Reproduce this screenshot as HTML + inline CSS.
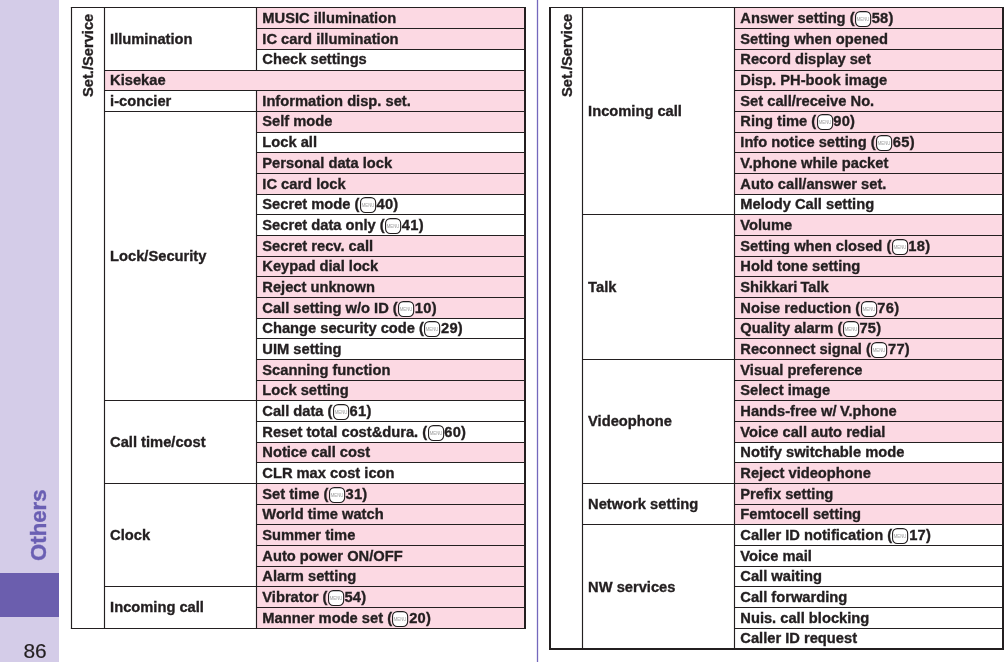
<!DOCTYPE html>
<html lang="en"><head><meta charset="utf-8"><title>Others - Menu function list (Set./Service)</title>
<style>
html,body{margin:0;padding:0;background:#fff}
body{width:1004px;height:662px;position:relative;overflow:hidden;font-family:"Liberation Sans",sans-serif;color:#231f20}
#side{position:absolute;left:0;top:0;width:59px;height:662px;background:#d4cce8}
#tab{position:absolute;left:0;top:573px;width:59px;height:44px;background:#6b5eae}
#oth{position:absolute;left:47.0px;top:560.6px;font-weight:bold;font-size:22.2px;line-height:1;color:#6a5fb3;-webkit-text-stroke:0.4px #6a5fb3;white-space:nowrap;transform-origin:0 0;transform:rotate(-90deg) translateY(-18.792px)}
#pg{position:absolute;left:23.4px;top:640.1px;font-size:20.9px;line-height:22px;color:#231f20;-webkit-text-stroke:0.2px #231f20}
#g{position:absolute;left:0;top:0}
#t{position:absolute;left:0;top:0;width:1004px;height:662px;will-change:transform}
#g line{stroke:#231f20;stroke-width:1.15}
.c,.v{-webkit-text-stroke:0.35px #231f20}
.c{position:absolute;font-weight:bold;font-size:14.7px;line-height:20.68px;height:20.68px;white-space:nowrap}
.v{position:absolute;font-weight:bold;font-size:14.7px;line-height:1;white-space:nowrap;transform-origin:0 0;transform:rotate(-90deg) translateY(-12.444px)}
.mi{display:inline-block;vertical-align:baseline;margin:0 0.5px -4.3px 0.4px;overflow:visible}
.n{letter-spacing:.25px}
</style></head><body>
<div id="side"></div><div id="tab"></div>
<svg id="g" width="1004" height="662" viewBox="0 0 1004 662">
<line x1="537.5" y1="0" x2="537.5" y2="662" style="stroke:#7468bd;stroke-width:1.3"/>
<rect x="256.5" y="7.5" width="268.5" height="21" fill="#fcd9e3"/>
<rect x="256.5" y="28.5" width="268.5" height="21" fill="#fcd9e3"/>
<rect x="104.5" y="70.5" width="420.5" height="20" fill="#fcd9e3"/>
<rect x="256.5" y="90.5" width="268.5" height="21" fill="#fcd9e3"/>
<rect x="256.5" y="111.5" width="268.5" height="21" fill="#fcd9e3"/>
<rect x="256.5" y="152.5" width="268.5" height="21" fill="#fcd9e3"/>
<rect x="256.5" y="173.5" width="268.5" height="21" fill="#fcd9e3"/>
<rect x="256.5" y="235.5" width="268.5" height="21" fill="#fcd9e3"/>
<rect x="256.5" y="256.5" width="268.5" height="20" fill="#fcd9e3"/>
<rect x="256.5" y="276.5" width="268.5" height="21" fill="#fcd9e3"/>
<rect x="256.5" y="297.5" width="268.5" height="21" fill="#fcd9e3"/>
<rect x="256.5" y="359.5" width="268.5" height="21" fill="#fcd9e3"/>
<rect x="256.5" y="380.5" width="268.5" height="20" fill="#fcd9e3"/>
<rect x="256.5" y="442.5" width="268.5" height="20" fill="#fcd9e3"/>
<rect x="256.5" y="483.5" width="268.5" height="21" fill="#fcd9e3"/>
<rect x="256.5" y="504.5" width="268.5" height="20" fill="#fcd9e3"/>
<rect x="256.5" y="524.5" width="268.5" height="21" fill="#fcd9e3"/>
<rect x="256.5" y="545.5" width="268.5" height="21" fill="#fcd9e3"/>
<rect x="256.5" y="566.5" width="268.5" height="20" fill="#fcd9e3"/>
<rect x="256.5" y="586.5" width="268.5" height="21" fill="#fcd9e3"/>
<rect x="256.5" y="607.5" width="268.5" height="21" fill="#fcd9e3"/>
<line x1="256.5" y1="28.5" x2="525" y2="28.5"/>
<line x1="256.5" y1="49.5" x2="525" y2="49.5"/>
<line x1="104.5" y1="70.5" x2="525" y2="70.5"/>
<line x1="104.5" y1="90.5" x2="525" y2="90.5"/>
<line x1="104.5" y1="111.5" x2="525" y2="111.5"/>
<line x1="256.5" y1="132.5" x2="525" y2="132.5"/>
<line x1="256.5" y1="152.5" x2="525" y2="152.5"/>
<line x1="256.5" y1="173.5" x2="525" y2="173.5"/>
<line x1="256.5" y1="194.5" x2="525" y2="194.5"/>
<line x1="256.5" y1="214.5" x2="525" y2="214.5"/>
<line x1="256.5" y1="235.5" x2="525" y2="235.5"/>
<line x1="256.5" y1="256.5" x2="525" y2="256.5"/>
<line x1="256.5" y1="276.5" x2="525" y2="276.5"/>
<line x1="256.5" y1="297.5" x2="525" y2="297.5"/>
<line x1="256.5" y1="318.5" x2="525" y2="318.5"/>
<line x1="256.5" y1="338.5" x2="525" y2="338.5"/>
<line x1="256.5" y1="359.5" x2="525" y2="359.5"/>
<line x1="256.5" y1="380.5" x2="525" y2="380.5"/>
<line x1="104.5" y1="400.5" x2="525" y2="400.5"/>
<line x1="256.5" y1="421.5" x2="525" y2="421.5"/>
<line x1="256.5" y1="442.5" x2="525" y2="442.5"/>
<line x1="256.5" y1="462.5" x2="525" y2="462.5"/>
<line x1="104.5" y1="483.5" x2="525" y2="483.5"/>
<line x1="256.5" y1="504.5" x2="525" y2="504.5"/>
<line x1="256.5" y1="524.5" x2="525" y2="524.5"/>
<line x1="256.5" y1="545.5" x2="525" y2="545.5"/>
<line x1="256.5" y1="566.5" x2="525" y2="566.5"/>
<line x1="104.5" y1="586.5" x2="525" y2="586.5"/>
<line x1="256.5" y1="607.5" x2="525" y2="607.5"/>
<line x1="104.5" y1="7.5" x2="104.5" y2="628.5"/>
<line x1="256.5" y1="7.5" x2="256.5" y2="70.5"/>
<line x1="256.5" y1="90.5" x2="256.5" y2="111.5"/>
<line x1="256.5" y1="111.5" x2="256.5" y2="400.5"/>
<line x1="256.5" y1="400.5" x2="256.5" y2="483.5"/>
<line x1="256.5" y1="483.5" x2="256.5" y2="586.5"/>
<line x1="256.5" y1="586.5" x2="256.5" y2="628.5"/>
<line x1="70.92" y1="7.5" x2="526" y2="7.5"/>
<line x1="70.92" y1="628.5" x2="526" y2="628.5" style="stroke-width:1.15"/>
<line x1="71.5" y1="7" x2="71.5" y2="629.08" style="stroke-width:1.15"/>
<line x1="525" y1="7" x2="525" y2="629.08" style="stroke-width:2"/>
<rect x="734.5" y="7.5" width="268.5" height="21" fill="#fcd9e3"/>
<rect x="734.5" y="28.5" width="268.5" height="21" fill="#fcd9e3"/>
<rect x="734.5" y="49.5" width="268.5" height="21" fill="#fcd9e3"/>
<rect x="734.5" y="70.5" width="268.5" height="20" fill="#fcd9e3"/>
<rect x="734.5" y="90.5" width="268.5" height="21" fill="#fcd9e3"/>
<rect x="734.5" y="111.5" width="268.5" height="21" fill="#fcd9e3"/>
<rect x="734.5" y="132.5" width="268.5" height="20" fill="#fcd9e3"/>
<rect x="734.5" y="152.5" width="268.5" height="21" fill="#fcd9e3"/>
<rect x="734.5" y="173.5" width="268.5" height="21" fill="#fcd9e3"/>
<rect x="734.5" y="214.5" width="268.5" height="21" fill="#fcd9e3"/>
<rect x="734.5" y="235.5" width="268.5" height="21" fill="#fcd9e3"/>
<rect x="734.5" y="256.5" width="268.5" height="20" fill="#fcd9e3"/>
<rect x="734.5" y="276.5" width="268.5" height="21" fill="#fcd9e3"/>
<rect x="734.5" y="297.5" width="268.5" height="21" fill="#fcd9e3"/>
<rect x="734.5" y="318.5" width="268.5" height="20" fill="#fcd9e3"/>
<rect x="734.5" y="338.5" width="268.5" height="21" fill="#fcd9e3"/>
<rect x="734.5" y="359.5" width="268.5" height="21" fill="#fcd9e3"/>
<rect x="734.5" y="380.5" width="268.5" height="20" fill="#fcd9e3"/>
<rect x="734.5" y="400.5" width="268.5" height="21" fill="#fcd9e3"/>
<rect x="734.5" y="421.5" width="268.5" height="21" fill="#fcd9e3"/>
<rect x="734.5" y="462.5" width="268.5" height="21" fill="#fcd9e3"/>
<rect x="734.5" y="483.5" width="268.5" height="21" fill="#fcd9e3"/>
<rect x="734.5" y="504.5" width="268.5" height="20" fill="#fcd9e3"/>
<line x1="734.5" y1="28.5" x2="1003" y2="28.5"/>
<line x1="734.5" y1="49.5" x2="1003" y2="49.5"/>
<line x1="734.5" y1="70.5" x2="1003" y2="70.5"/>
<line x1="734.5" y1="90.5" x2="1003" y2="90.5"/>
<line x1="734.5" y1="111.5" x2="1003" y2="111.5"/>
<line x1="734.5" y1="132.5" x2="1003" y2="132.5"/>
<line x1="734.5" y1="152.5" x2="1003" y2="152.5"/>
<line x1="734.5" y1="173.5" x2="1003" y2="173.5"/>
<line x1="734.5" y1="194.5" x2="1003" y2="194.5"/>
<line x1="582.5" y1="214.5" x2="1003" y2="214.5"/>
<line x1="734.5" y1="235.5" x2="1003" y2="235.5"/>
<line x1="734.5" y1="256.5" x2="1003" y2="256.5"/>
<line x1="734.5" y1="276.5" x2="1003" y2="276.5"/>
<line x1="734.5" y1="297.5" x2="1003" y2="297.5"/>
<line x1="734.5" y1="318.5" x2="1003" y2="318.5"/>
<line x1="734.5" y1="338.5" x2="1003" y2="338.5"/>
<line x1="582.5" y1="359.5" x2="1003" y2="359.5"/>
<line x1="734.5" y1="380.5" x2="1003" y2="380.5"/>
<line x1="734.5" y1="400.5" x2="1003" y2="400.5"/>
<line x1="734.5" y1="421.5" x2="1003" y2="421.5"/>
<line x1="734.5" y1="442.5" x2="1003" y2="442.5"/>
<line x1="734.5" y1="462.5" x2="1003" y2="462.5"/>
<line x1="582.5" y1="483.5" x2="1003" y2="483.5"/>
<line x1="734.5" y1="504.5" x2="1003" y2="504.5"/>
<line x1="582.5" y1="524.5" x2="1003" y2="524.5"/>
<line x1="734.5" y1="545.5" x2="1003" y2="545.5"/>
<line x1="734.5" y1="566.5" x2="1003" y2="566.5"/>
<line x1="734.5" y1="586.5" x2="1003" y2="586.5"/>
<line x1="734.5" y1="607.5" x2="1003" y2="607.5"/>
<line x1="734.5" y1="628.5" x2="1003" y2="628.5"/>
<line x1="582.5" y1="7.5" x2="582.5" y2="648.5"/>
<line x1="734.5" y1="7.5" x2="734.5" y2="214.5"/>
<line x1="734.5" y1="214.5" x2="734.5" y2="359.5"/>
<line x1="734.5" y1="359.5" x2="734.5" y2="483.5"/>
<line x1="734.5" y1="483.5" x2="734.5" y2="524.5"/>
<line x1="734.5" y1="524.5" x2="734.5" y2="648.5"/>
<line x1="549" y1="7.5" x2="1004" y2="7.5"/>
<line x1="549" y1="649" x2="1004" y2="649" style="stroke-width:2"/>
<line x1="550" y1="7" x2="550" y2="650" style="stroke-width:2"/>
<line x1="1003" y1="7" x2="1003" y2="650" style="stroke-width:2"/>
</svg>
<div id="t">
<div id="oth">Others</div>
<div id="pg">86</div>
<div class="c" style="left:262.3px;top:7.66px">MUSIC illumination</div>
<div class="c" style="left:262.3px;top:28.66px">IC card illumination</div>
<div class="c" style="left:262.3px;top:48.66px">Check settings</div>
<div class="c" style="left:262.3px;top:90.66px">Information disp. set.</div>
<div class="c" style="left:262.3px;top:110.66px">Self mode</div>
<div class="c" style="left:262.3px;top:131.66px">Lock all</div>
<div class="c" style="left:262.3px;top:152.66px">Personal data lock</div>
<div class="c" style="left:262.3px;top:173.66px">IC card lock</div>
<div class="c" style="left:262.3px;top:193.66px">Secret mode (<svg class="mi" viewBox="0 0 16.2 16.2" width="16.2" height="16.2"><rect x="0.55" y="0.6" width="15.1" height="14.9" rx="4.7" ry="4.7" fill="#fff" stroke="#231f20" stroke-width="1.1"/><text x="8.1" y="9.75" text-anchor="middle" font-family="Liberation Sans, sans-serif" font-weight="normal" font-size="4.5" fill="#9c9c9c" stroke="none" textLength="12.6" lengthAdjust="spacingAndGlyphs">MENU</text></svg><span class="n">40)</span></div>
<div class="c" style="left:262.3px;top:214.66px">Secret data only (<svg class="mi" viewBox="0 0 16.2 16.2" width="16.2" height="16.2"><rect x="0.55" y="0.6" width="15.1" height="14.9" rx="4.7" ry="4.7" fill="#fff" stroke="#231f20" stroke-width="1.1"/><text x="8.1" y="9.75" text-anchor="middle" font-family="Liberation Sans, sans-serif" font-weight="normal" font-size="4.5" fill="#9c9c9c" stroke="none" textLength="12.6" lengthAdjust="spacingAndGlyphs">MENU</text></svg><span class="n">41)</span></div>
<div class="c" style="left:262.3px;top:235.66px">Secret recv. call</div>
<div class="c" style="left:262.3px;top:255.66px">Keypad dial lock</div>
<div class="c" style="left:262.3px;top:276.66px">Reject unknown</div>
<div class="c" style="left:262.3px;top:297.66px">Call setting w/o ID (<svg class="mi" viewBox="0 0 16.2 16.2" width="16.2" height="16.2"><rect x="0.55" y="0.6" width="15.1" height="14.9" rx="4.7" ry="4.7" fill="#fff" stroke="#231f20" stroke-width="1.1"/><text x="8.1" y="9.75" text-anchor="middle" font-family="Liberation Sans, sans-serif" font-weight="normal" font-size="4.5" fill="#9c9c9c" stroke="none" textLength="12.6" lengthAdjust="spacingAndGlyphs">MENU</text></svg><span class="n">10)</span></div>
<div class="c" style="left:262.3px;top:317.66px">Change security code (<svg class="mi" viewBox="0 0 16.2 16.2" width="16.2" height="16.2"><rect x="0.55" y="0.6" width="15.1" height="14.9" rx="4.7" ry="4.7" fill="#fff" stroke="#231f20" stroke-width="1.1"/><text x="8.1" y="9.75" text-anchor="middle" font-family="Liberation Sans, sans-serif" font-weight="normal" font-size="4.5" fill="#9c9c9c" stroke="none" textLength="12.6" lengthAdjust="spacingAndGlyphs">MENU</text></svg><span class="n">29)</span></div>
<div class="c" style="left:262.3px;top:338.66px">UIM setting</div>
<div class="c" style="left:262.3px;top:359.66px">Scanning function</div>
<div class="c" style="left:262.3px;top:379.66px">Lock setting</div>
<div class="c" style="left:262.3px;top:400.66px">Call data (<svg class="mi" viewBox="0 0 16.2 16.2" width="16.2" height="16.2"><rect x="0.55" y="0.6" width="15.1" height="14.9" rx="4.7" ry="4.7" fill="#fff" stroke="#231f20" stroke-width="1.1"/><text x="8.1" y="9.75" text-anchor="middle" font-family="Liberation Sans, sans-serif" font-weight="normal" font-size="4.5" fill="#9c9c9c" stroke="none" textLength="12.6" lengthAdjust="spacingAndGlyphs">MENU</text></svg><span class="n">61)</span></div>
<div class="c" style="left:262.3px;top:421.66px">Reset total cost&amp;dura. (<svg class="mi" viewBox="0 0 16.2 16.2" width="16.2" height="16.2"><rect x="0.55" y="0.6" width="15.1" height="14.9" rx="4.7" ry="4.7" fill="#fff" stroke="#231f20" stroke-width="1.1"/><text x="8.1" y="9.75" text-anchor="middle" font-family="Liberation Sans, sans-serif" font-weight="normal" font-size="4.5" fill="#9c9c9c" stroke="none" textLength="12.6" lengthAdjust="spacingAndGlyphs">MENU</text></svg><span class="n">60)</span></div>
<div class="c" style="left:262.3px;top:441.66px">Notice call cost</div>
<div class="c" style="left:262.3px;top:462.66px">CLR max cost icon</div>
<div class="c" style="left:262.3px;top:483.66px">Set time (<svg class="mi" viewBox="0 0 16.2 16.2" width="16.2" height="16.2"><rect x="0.55" y="0.6" width="15.1" height="14.9" rx="4.7" ry="4.7" fill="#fff" stroke="#231f20" stroke-width="1.1"/><text x="8.1" y="9.75" text-anchor="middle" font-family="Liberation Sans, sans-serif" font-weight="normal" font-size="4.5" fill="#9c9c9c" stroke="none" textLength="12.6" lengthAdjust="spacingAndGlyphs">MENU</text></svg><span class="n">31)</span></div>
<div class="c" style="left:262.3px;top:503.66px">World time watch</div>
<div class="c" style="left:262.3px;top:524.66px">Summer time</div>
<div class="c" style="left:262.3px;top:545.66px">Auto power ON/OFF</div>
<div class="c" style="left:262.3px;top:565.66px">Alarm setting</div>
<div class="c" style="left:262.3px;top:586.66px">Vibrator (<svg class="mi" viewBox="0 0 16.2 16.2" width="16.2" height="16.2"><rect x="0.55" y="0.6" width="15.1" height="14.9" rx="4.7" ry="4.7" fill="#fff" stroke="#231f20" stroke-width="1.1"/><text x="8.1" y="9.75" text-anchor="middle" font-family="Liberation Sans, sans-serif" font-weight="normal" font-size="4.5" fill="#9c9c9c" stroke="none" textLength="12.6" lengthAdjust="spacingAndGlyphs">MENU</text></svg><span class="n">54)</span></div>
<div class="c" style="left:262.3px;top:607.66px">Manner mode set (<svg class="mi" viewBox="0 0 16.2 16.2" width="16.2" height="16.2"><rect x="0.55" y="0.6" width="15.1" height="14.9" rx="4.7" ry="4.7" fill="#fff" stroke="#231f20" stroke-width="1.1"/><text x="8.1" y="9.75" text-anchor="middle" font-family="Liberation Sans, sans-serif" font-weight="normal" font-size="4.5" fill="#9c9c9c" stroke="none" textLength="12.6" lengthAdjust="spacingAndGlyphs">MENU</text></svg><span class="n">20)</span></div>
<div class="c" style="left:110.1px;top:28.66px">Illumination</div>
<div class="c" style="left:110.1px;top:69.66px">Kisekae</div>
<div class="c" style="left:110.1px;top:90.66px">i-concier</div>
<div class="c" style="left:110.1px;top:245.66px">Lock/Security</div>
<div class="c" style="left:110.1px;top:431.66px">Call time/cost</div>
<div class="c" style="left:110.1px;top:524.66px">Clock</div>
<div class="c" style="left:110.1px;top:596.66px">Incoming call</div>
<div class="v" style="left:93.2px;top:96.6px">Set./Service</div>
<div class="c" style="left:740.3px;top:7.66px">Answer setting (<svg class="mi" viewBox="0 0 16.2 16.2" width="16.2" height="16.2"><rect x="0.55" y="0.6" width="15.1" height="14.9" rx="4.7" ry="4.7" fill="#fff" stroke="#231f20" stroke-width="1.1"/><text x="8.1" y="9.75" text-anchor="middle" font-family="Liberation Sans, sans-serif" font-weight="normal" font-size="4.5" fill="#9c9c9c" stroke="none" textLength="12.6" lengthAdjust="spacingAndGlyphs">MENU</text></svg><span class="n">58)</span></div>
<div class="c" style="left:740.3px;top:28.66px">Setting when opened</div>
<div class="c" style="left:740.3px;top:48.66px">Record display set</div>
<div class="c" style="left:740.3px;top:69.66px">Disp. PH-book image</div>
<div class="c" style="left:740.3px;top:90.66px">Set call/receive No.</div>
<div class="c" style="left:740.3px;top:110.66px">Ring time (<svg class="mi" viewBox="0 0 16.2 16.2" width="16.2" height="16.2"><rect x="0.55" y="0.6" width="15.1" height="14.9" rx="4.7" ry="4.7" fill="#fff" stroke="#231f20" stroke-width="1.1"/><text x="8.1" y="9.75" text-anchor="middle" font-family="Liberation Sans, sans-serif" font-weight="normal" font-size="4.5" fill="#9c9c9c" stroke="none" textLength="12.6" lengthAdjust="spacingAndGlyphs">MENU</text></svg><span class="n">90)</span></div>
<div class="c" style="left:740.3px;top:131.66px">Info notice setting (<svg class="mi" viewBox="0 0 16.2 16.2" width="16.2" height="16.2"><rect x="0.55" y="0.6" width="15.1" height="14.9" rx="4.7" ry="4.7" fill="#fff" stroke="#231f20" stroke-width="1.1"/><text x="8.1" y="9.75" text-anchor="middle" font-family="Liberation Sans, sans-serif" font-weight="normal" font-size="4.5" fill="#9c9c9c" stroke="none" textLength="12.6" lengthAdjust="spacingAndGlyphs">MENU</text></svg><span class="n">65)</span></div>
<div class="c" style="left:740.3px;top:152.66px">V.phone while packet</div>
<div class="c" style="left:740.3px;top:173.66px">Auto call/answer set.</div>
<div class="c" style="left:740.3px;top:193.66px">Melody Call setting</div>
<div class="c" style="left:740.3px;top:214.66px">Volume</div>
<div class="c" style="left:740.3px;top:235.66px">Setting when closed (<svg class="mi" viewBox="0 0 16.2 16.2" width="16.2" height="16.2"><rect x="0.55" y="0.6" width="15.1" height="14.9" rx="4.7" ry="4.7" fill="#fff" stroke="#231f20" stroke-width="1.1"/><text x="8.1" y="9.75" text-anchor="middle" font-family="Liberation Sans, sans-serif" font-weight="normal" font-size="4.5" fill="#9c9c9c" stroke="none" textLength="12.6" lengthAdjust="spacingAndGlyphs">MENU</text></svg><span class="n">18)</span></div>
<div class="c" style="left:740.3px;top:255.66px">Hold tone setting</div>
<div class="c" style="left:740.3px;top:276.66px">Shikkari<span style="word-spacing:-1.1px"> </span>Talk</div>
<div class="c" style="left:740.3px;top:297.66px">Noise reduction (<svg class="mi" viewBox="0 0 16.2 16.2" width="16.2" height="16.2"><rect x="0.55" y="0.6" width="15.1" height="14.9" rx="4.7" ry="4.7" fill="#fff" stroke="#231f20" stroke-width="1.1"/><text x="8.1" y="9.75" text-anchor="middle" font-family="Liberation Sans, sans-serif" font-weight="normal" font-size="4.5" fill="#9c9c9c" stroke="none" textLength="12.6" lengthAdjust="spacingAndGlyphs">MENU</text></svg><span class="n">76)</span></div>
<div class="c" style="left:740.3px;top:317.66px">Quality alarm (<svg class="mi" viewBox="0 0 16.2 16.2" width="16.2" height="16.2"><rect x="0.55" y="0.6" width="15.1" height="14.9" rx="4.7" ry="4.7" fill="#fff" stroke="#231f20" stroke-width="1.1"/><text x="8.1" y="9.75" text-anchor="middle" font-family="Liberation Sans, sans-serif" font-weight="normal" font-size="4.5" fill="#9c9c9c" stroke="none" textLength="12.6" lengthAdjust="spacingAndGlyphs">MENU</text></svg><span class="n">75)</span></div>
<div class="c" style="left:740.3px;top:338.66px">Reconnect signal (<svg class="mi" viewBox="0 0 16.2 16.2" width="16.2" height="16.2"><rect x="0.55" y="0.6" width="15.1" height="14.9" rx="4.7" ry="4.7" fill="#fff" stroke="#231f20" stroke-width="1.1"/><text x="8.1" y="9.75" text-anchor="middle" font-family="Liberation Sans, sans-serif" font-weight="normal" font-size="4.5" fill="#9c9c9c" stroke="none" textLength="12.6" lengthAdjust="spacingAndGlyphs">MENU</text></svg><span class="n">77)</span></div>
<div class="c" style="left:740.3px;top:359.66px">Visual preference</div>
<div class="c" style="left:740.3px;top:379.66px">Select image</div>
<div class="c" style="left:740.3px;top:400.66px">Hands-free w/<span style="word-spacing:-0.7px"> </span>V.phone</div>
<div class="c" style="left:740.3px;top:421.66px">Voice call auto redial</div>
<div class="c" style="left:740.3px;top:441.66px">Notify switchable mode</div>
<div class="c" style="left:740.3px;top:462.66px">Reject videophone</div>
<div class="c" style="left:740.3px;top:483.66px">Prefix setting</div>
<div class="c" style="left:740.3px;top:503.66px">Femtocell setting</div>
<div class="c" style="left:740.3px;top:524.66px">Caller ID notification (<svg class="mi" viewBox="0 0 16.2 16.2" width="16.2" height="16.2"><rect x="0.55" y="0.6" width="15.1" height="14.9" rx="4.7" ry="4.7" fill="#fff" stroke="#231f20" stroke-width="1.1"/><text x="8.1" y="9.75" text-anchor="middle" font-family="Liberation Sans, sans-serif" font-weight="normal" font-size="4.5" fill="#9c9c9c" stroke="none" textLength="12.6" lengthAdjust="spacingAndGlyphs">MENU</text></svg><span class="n">17)</span></div>
<div class="c" style="left:740.3px;top:545.66px">Voice mail</div>
<div class="c" style="left:740.3px;top:565.66px">Call waiting</div>
<div class="c" style="left:740.3px;top:586.66px">Call forwarding</div>
<div class="c" style="left:740.3px;top:607.66px">Nuis. call blocking</div>
<div class="c" style="left:740.3px;top:627.66px">Caller ID request</div>
<div class="c" style="left:588.1px;top:100.66px">Incoming call</div>
<div class="c" style="left:588.1px;top:276.66px">Talk</div>
<div class="c" style="left:588.1px;top:410.66px">Videophone</div>
<div class="c" style="left:588.1px;top:493.66px">Network setting</div>
<div class="c" style="left:588.1px;top:576.66px">NW services</div>
<div class="v" style="left:572.2px;top:96.6px">Set./Service</div>
</div>
</body></html>
